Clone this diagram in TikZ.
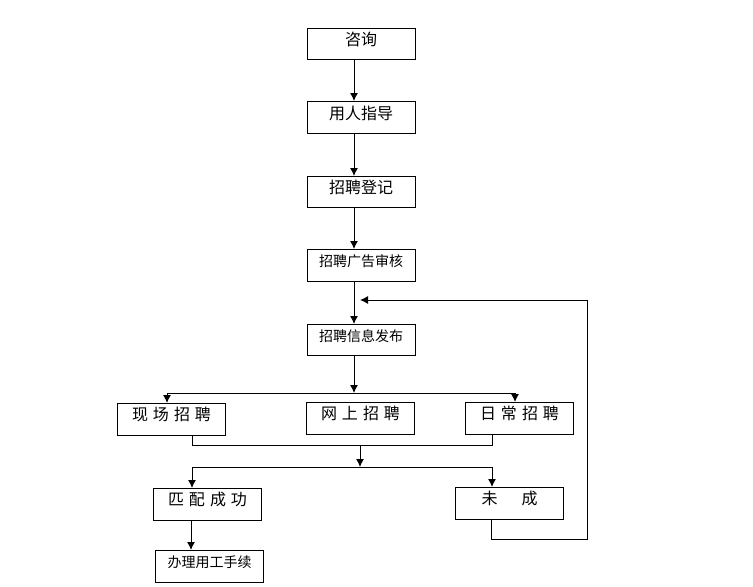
\documentclass[tikz,border=0pt]{standalone}
\usepackage{fontspec}
\setmainfont{Noto Sans CJK SC}
\usetikzlibrary{arrows.meta}
\tikzset{
  flowbox/.style={draw=black,line width=0.75pt,fill=white,anchor=north west,inner sep=0pt,
    minimum width=81pt,align=center,text width=81pt,
    text height=12.4pt,text depth=11.6pt,font=\fontsize{12pt}{14pt}\selectfont},
  shortbox/.style={flowbox,text depth=10.85pt},
  lowtext/.style={text height=13.4pt,text depth=10.6pt},
  smalltext/.style={font=\fontsize{10.5pt}{13pt}\selectfont},
  link/.style={draw=black,line width=0.75pt},
  arrowlink/.style={link,-{Latex[length=6pt,width=6pt]}}
}
\newcommand{\gp}{\hspace{3.75pt}}
\begin{document}
\begin{tikzpicture}[x=0.75pt,y=-0.75pt]
\useasboundingbox (0,0) rectangle (753,586);
\node[shortbox] (a) at (306.5,28) {咨询};
\node[flowbox,lowtext] (b) at (306.5,101) {用人指导};
\node[shortbox] (c) at (306.5,176) {招聘登记};
\node[flowbox,smalltext] (d) at (306.5,249) {招聘广告审核};
\node[shortbox,smalltext] (e) at (306.5,324) {招聘信息发布};
\node[flowbox] (f) at (117,403) {现\gp 场\gp 招\gp 聘};
\node[flowbox] (g) at (306,402) {网\gp 上\gp 招\gp 聘};
\node[flowbox] (h) at (465,402) {日\gp 常\gp 招\gp 聘};
\node[flowbox] (i) at (153,488) {匹\gp 配\gp 成\gp 功};
\node[flowbox] (j) at (455,487) {未\hspace{18pt}成};
\node[flowbox,smalltext] (k) at (155,550) {办理用工手续};
% guide coordinates
\coordinate (main) at (354,0);
\coordinate (busL) at (167,393);
\coordinate (busM) at (354,393);
\coordinate (busR) at (515,393);
\coordinate (mergeL) at (192,445);
\coordinate (mergeM) at (360,445);
\coordinate (mergeR) at (492,445);
\coordinate (splitL) at (192,467);
\coordinate (splitM) at (360,467);
\coordinate (splitR) at (492,467);
\coordinate (fin) at (191,0);
\coordinate (backA) at (491,539);
\coordinate (backB) at (587,539);
\coordinate (backC) at (587,300);
\coordinate (backD) at (360,300);
% spine
\draw[arrowlink] (main |- a.south) -- (main |- b.north);
\draw[arrowlink] (main |- b.south) -- (main |- c.north);
\draw[arrowlink] (main |- c.south) -- (main |- d.north);
\draw[arrowlink] (main |- d.south) -- (main |- e.north);
\draw[arrowlink] (main |- e.south) -- (busM);
% distribution bus
\draw[link] (busL) -- (busR);
\draw[arrowlink] (busL) -- (busL |- f.north);
\draw[arrowlink] (busR) -- (busR |- h.north);
% merge
\draw[link] (mergeL |- f.south) -- (mergeL) -- (mergeR) -- (mergeR |- h.south);
\draw[arrowlink] (mergeM) -- (splitM);
% split
\draw[link] (splitL) -- (splitR);
\draw[arrowlink] (splitL) -- (splitL |- i.north);
\draw[arrowlink] (splitR) -- (splitR |- j.north);
\draw[arrowlink] (fin |- i.south) -- (fin |- k.north);
% feedback
\draw[arrowlink] (backA |- j.south) -- (backA) -- (backB) -- (backC) -- (backD);
\end{tikzpicture}
\end{document}
